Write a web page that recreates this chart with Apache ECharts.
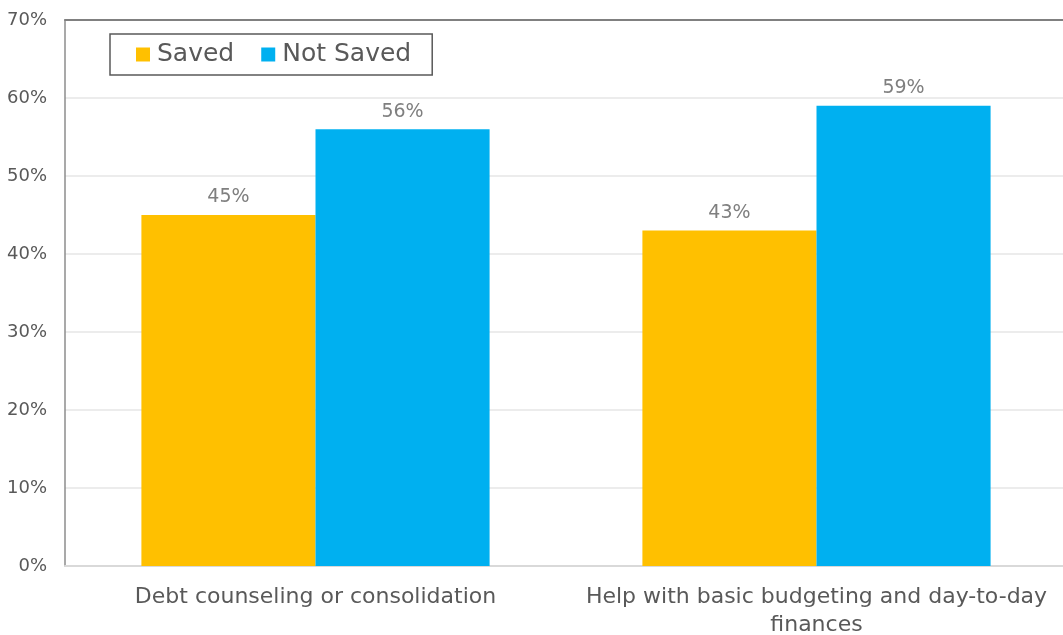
<!DOCTYPE html>
<html><head><meta charset="utf-8">
<script src="https://cdn.jsdelivr.net/npm/echarts@6/dist/echarts.min.js"></script>
<style>html,body{margin:0;padding:0;background:#fff;overflow:hidden}#c{width:1063px;height:635px}</style>
</head><body><div id="c"></div>
<script>
const categories = ["Debt counseling or consolidation", "Help with basic budgeting and day-to-day\nfinances"];
const seriesNames = ["Saved", "Not Saved"];
const saved = [45, 43];
const notSaved = [56, 59];
const yTicks = [0, 10, 20, 30, 40, 50, 60, 70];
const FONT = "DejaVu Sans";
const chart = echarts.init(document.getElementById('c'));
const labelCfg = {show: true, position: 'top', formatter: '{c}%', color: '#7f7f7f', fontFamily: FONT, fontSize: 19, distance: 8};
chart.setOption({
  animation: false,
  textStyle: {fontFamily: FONT},
  grid: {left: 65, right: -4, top: 20, bottom: 69, containLabel: false, outerBoundsMode: 'none'},
  legend: {
    data: seriesNames, left: 110, top: 34, orient: 'horizontal',
    borderColor: '#595959', borderWidth: 1.5, padding: [8, 21, 8, 26],
    itemWidth: 14, itemHeight: 14, itemGap: 27, icon: 'rect',
    textStyle: {fontFamily: FONT, fontSize: 25, color: '#595959', padding: [0, 0, 0, 2]}
  },
  xAxis: [{
    type: 'category', data: categories,
    axisLine: {lineStyle: {color: '#d9d9d9', width: 2}},
    axisTick: {show: false},
    axisLabel: {color: '#595959', fontFamily: FONT, fontSize: 22, lineHeight: 28, margin: 17, interval: 0}
  }, {
    type: 'category', data: categories, position: 'top',
    axisLine: {show: true, lineStyle: {color: '#808080', width: 2}},
    axisTick: {show: false}, axisLabel: {show: false}
  }],
  yAxis: {
    type: 'value', min: 0, max: 70, interval: 10,
    axisLine: {show: true, lineStyle: {color: '#8c8c8c', width: 1.5}},
    axisTick: {show: false},
    splitLine: {lineStyle: {color: '#e6e6e6', width: 1.5}},
    axisLabel: {formatter: v => yTicks.includes(v) ? v + '%' : '', color: '#595959', fontFamily: FONT, fontSize: 18, margin: 18}
  },
  series: [
    {name: seriesNames[0], type: 'bar', data: saved, itemStyle: {color: '#FFC000'}, barGap: '0%', barCategoryGap: '30.5%', label: labelCfg},
    {name: seriesNames[1], type: 'bar', data: notSaved, itemStyle: {color: '#00B0F0'}, barGap: '0%', barCategoryGap: '30.5%', label: labelCfg}
  ]
});
</script></body></html>
